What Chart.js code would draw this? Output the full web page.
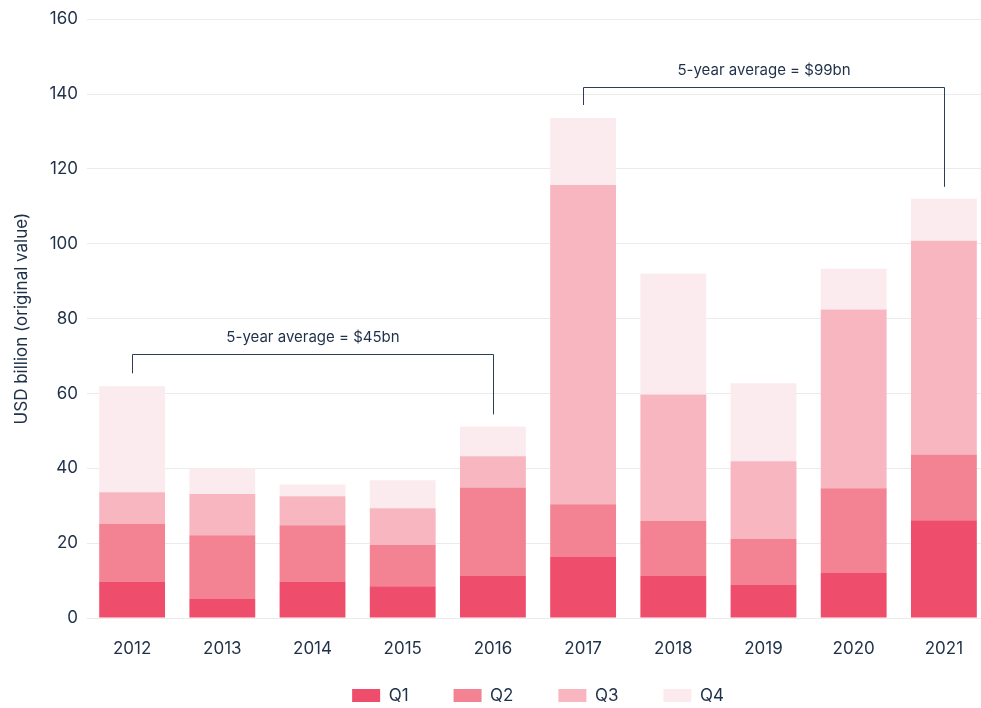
<!DOCTYPE html>
<html>
<head>
<meta charset="utf-8">
<script src="https://cdn.jsdelivr.net/npm/chart.js@4.4.1/dist/chart.umd.min.js"></script>
<style>
  html, body { margin: 0; padding: 0; background: #fff; overflow: hidden; }
  #wrap { width: 992px; height: 708px; }
</style>
</head>
<body>
<div id="wrap"><canvas id="dealsChart" width="992" height="708"></canvas></div>
<script>
const years = ['2012', '2013', '2014', '2015', '2016', '2017', '2018', '2019', '2020', '2021'];
const q1Values = [9.6, 5.1, 9.6, 8.5, 11.2, 16.3, 11.2, 8.8, 12.0, 26.1];
const q2Values = [15.5, 17.0, 15.2, 11.0, 23.7, 14.1, 14.7, 12.3, 22.7, 17.6];
const q3Values = [8.5, 11.0, 7.7, 9.8, 8.3, 85.3, 33.8, 20.8, 47.7, 57.1];
const q4Values = [28.3, 6.9, 3.2, 7.5, 8.0, 17.9, 32.3, 20.8, 10.9, 11.2];
const seriesNames = ['Q1', 'Q2', 'Q3', 'Q4'];

// the two "5-year average" brackets
const averageLabels = ['5-year average = $45bn', '5-year average = $99bn'];
const averageFrom = [0, 5];
const averageTo = [4, 9];
const averageLevel = [70.6, 142];

const textColor = '#1f3049';
const fontFamily = 'Inter, "Noto Sans", sans-serif';

const totals = years.map((y, i) => q1Values[i] + q2Values[i] + q3Values[i] + q4Values[i]);

// brackets over the bars
const bracketPlugin = {
    id: 'averageBrackets',
    afterDatasetsDraw(chart) {
        const { ctx, scales: { x, y } } = chart;
        ctx.save();
        ctx.strokeStyle = '#2c3e56';
        ctx.lineWidth = 1;
        ctx.fillStyle = textColor;
        ctx.font = '15px ' + fontFamily;
        ctx.textAlign = 'center';
        ctx.textBaseline = 'middle';
        averageLabels.forEach((label, i) => {
            const x1 = Math.round(x.getPixelForValue(averageFrom[i])) + 0.5;
            const x2 = Math.round(x.getPixelForValue(averageTo[i])) + 0.5;
            const top = Math.round(y.getPixelForValue(averageLevel[i])) + 0.5;
            const y1 = y.getPixelForValue(totals[averageFrom[i]]) - 13;
            const y2 = y.getPixelForValue(totals[averageTo[i]]) - 12;
            ctx.beginPath();
            ctx.moveTo(x1, y1);
            ctx.lineTo(x1, top);
            ctx.lineTo(x2, top);
            ctx.lineTo(x2, y2);
            ctx.stroke();
            ctx.fillText(label, (x1 + x2) / 2, top - 17);
        });
        ctx.restore();
    }
};

// legend needs wide gaps between items but sits close under the year labels,
// so it takes little room in the layout and is stretched upwards afterwards
const legendLayoutHeight = 27.6;
const legendBoxTop = 642;
const legendSpacing = {
    id: 'legendSpacing',
    beforeInit(chart) {
        const fit = chart.legend.fit;
        chart.legend.fit = function () {
            fit.call(this);
            this.height = legendLayoutHeight;
        };
    },
    afterLayout(chart) {
        const lg = chart.legend;
        lg.top = legendBoxTop;
        lg.height = lg.bottom - legendBoxTop;
    }
};

function makeDataset(name, values, color) {
    return {
        label: name,
        data: values,
        backgroundColor: color,
        borderWidth: 0,
        barPercentage: 0.73,
        categoryPercentage: 1
    };
}

const ctx = document.getElementById('dealsChart').getContext('2d');
new Chart(ctx, {
    type: 'bar',
    data: {
        labels: years,
        datasets: [
            makeDataset(seriesNames[0], q1Values, '#ee4e6b'),
            makeDataset(seriesNames[1], q2Values, '#f38293'),
            makeDataset(seriesNames[2], q3Values, '#f8b6c0'),
            makeDataset(seriesNames[3], q4Values, '#fcebee')
        ]
    },
    options: {
        responsive: false,
        animation: false,
        layout: { padding: { left: 11.8, right: 3, top: 6.8, bottom: 0 } },
        scales: {
            x: {
                stacked: true,
                grid: { display: false, drawTicks: false },
                border: { display: false },
                ticks: { color: textColor, font: { family: fontFamily, size: 17 }, padding: 21 }
            },
            y: {
                stacked: true,
                min: 0,
                max: 160,
                grid: { color: '#ebebeb', drawTicks: false },
                border: { display: false },
                ticks: { stepSize: 20, padding: 9, color: textColor, font: { family: fontFamily, size: 17 } },
                title: {
                    display: true,
                    text: 'USD billion (original value)',
                    color: textColor,
                    font: { family: fontFamily, size: 17 },
                    padding: { top: 0, bottom: 8.2 }
                }
            }
        },
        plugins: {
            legend: {
                position: 'bottom',
                fullSize: false,
                labels: {
                    boxWidth: 28,
                    boxHeight: 13,
                    padding: 45,
                    color: textColor,
                    font: { family: fontFamily, size: 17 }
                }
            },
            tooltip: { enabled: false }
        }
    },
    plugins: [bracketPlugin, legendSpacing]
});
</script>
</body>
</html>
